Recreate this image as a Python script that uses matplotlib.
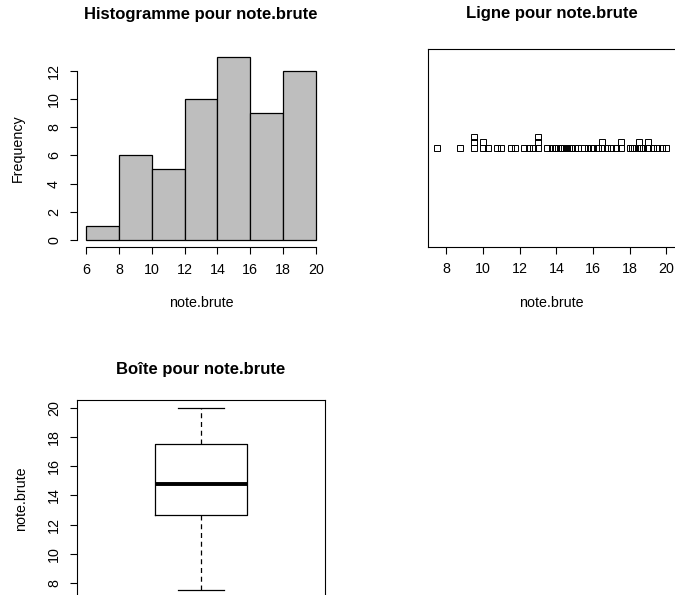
import matplotlib
matplotlib.use("Agg")
import matplotlib.pyplot as plt
import numpy as np
from collections import Counter

plt.rcParams['font.family'] = ['Liberation Sans', 'DejaVu Sans']

# notes (56 values)
note_brute = [
    7.5,
    8.75, 9.5, 9.5, 9.5, 10, 10,
    10.25, 10.75, 11, 11.5, 11.75,
    12.25, 12.5, 12.75, 13, 13, 13, 13.5, 13.75, 13.9, 14,
    14.2, 14.3, 14.4, 14.5, 14.6, 14.7, 14.8, 15.0, 15.2, 15.5, 15.7, 15.9, 16.0,
    16.25, 16.5, 16.5, 16.75, 17, 17.25, 17.5, 17.5, 18,
    18.1, 18.25, 18.5, 18.5, 18.6, 18.75, 19, 19, 19.25, 19.5, 19.75, 20,
]
hist_breaks = [6, 8, 10, 12, 14, 16, 18, 20]
hist_counts = [1, 6, 5, 10, 13, 9, 12]
x_ticks = [6, 8, 10, 12, 14, 16, 18, 20]
strip_ticks = [8, 10, 12, 14, 16, 18, 20]
freq_ticks = [0, 2, 4, 6, 8, 10, 12]
box_ticks = [8, 10, 12, 14, 16, 18, 20]
box_stats = dict(whislo=7.5, q1=12.625, med=14.75, q3=17.5, whishi=20)

W, H = 675, 595
fig = plt.figure(figsize=(W / 100, H / 100), dpi=100)

LAB = 10.3
TIT = 12


def px_axes(l, t, r, b):
    return fig.add_axes([l / W, (H - b) / H, (r - l) / W, (b - t) / H])


def r_ticks(ax):
    ax.tick_params(direction='out', length=5, width=0.8, labelsize=LAB, pad=6.3)
    for lab in ax.get_yticklabels():
        lab.set_rotation(90)
        lab.set_va('center')


# --- histogram
ax1 = px_axes(76.8, 49.4, 325.2, 247.3)
widths = np.diff(hist_breaks)
ax1.bar(hist_breaks[:-1], hist_counts, width=widths, align='edge',
        color='#BEBEBE', edgecolor='black', linewidth=0.9)
ax1.set_xlim(5.44, 20.56)
ax1.set_ylim(-0.52, 13.52)
ax1.set_xticks(x_ticks)
ax1.set_yticks(freq_ticks)
for s in ['top', 'right']:
    ax1.spines[s].set_visible(False)
ax1.spines['bottom'].set_bounds(6, 20)
ax1.spines['left'].set_bounds(0, 12)
ax1.spines['bottom'].set_linewidth(0.8)
ax1.spines['left'].set_linewidth(0.8)
r_ticks(ax1)
ax1.set_title('Histogramme pour note.brute', fontsize=TIT, fontweight='bold', pad=22)
ax1.set_xlabel('note.brute', fontsize=LAB, labelpad=14)
ax1.set_ylabel('Frequency', fontsize=LAB, labelpad=16)

# --- strip chart (stacked)
ax2 = px_axes(428, 48.5, 675.5, 246.5)
ax2.set_xlim(7.0, 20.5)
ax2.set_ylim(0.5, 1.5)
fig.canvas.draw()
hpx = ax2.get_window_extent().height
off = 5.5 / hpx * 1.0
xs, ys = [], []
for v, c in sorted(Counter(note_brute).items()):
    for k in range(c):
        xs.append(v)
        ys.append(1 + k * off)
ax2.plot(xs, ys, linestyle='none', marker='s', markersize=4.2,
         markerfacecolor='none', markeredgecolor='black', markeredgewidth=0.7)
ax2.set_xticks(strip_ticks)
ax2.set_yticks([])
for s in ax2.spines.values():
    s.set_linewidth(0.8)
r_ticks(ax2)
ax2.set_title('Ligne pour note.brute', fontsize=TIT, fontweight='bold', pad=22)
ax2.set_xlabel('note.brute', fontsize=LAB, labelpad=14)

# --- boxplot
ax3 = px_axes(77, 400.4, 325, 597.6)
ax3.bxp([box_stats], positions=[1], widths=0.4, showfliers=False,
        boxprops=dict(color='black', linewidth=0.9),
        whiskerprops=dict(color='black', linewidth=0.9, linestyle=(0, (4, 3))),
        capprops=dict(color='black', linewidth=0.9),
        medianprops=dict(color='black', linewidth=2.8),
        capwidths=0.2)
ax3.set_xlim(0.46, 1.54)
ax3.set_ylim(7.0, 20.5)
ax3.set_xticks([])
ax3.set_yticks(box_ticks)
for s in ax3.spines.values():
    s.set_linewidth(0.8)
r_ticks(ax3)
ax3.set_title('Boîte pour note.brute', fontsize=TIT, fontweight='bold', pad=19)
ax3.set_ylabel('note.brute', fontsize=LAB, labelpad=14)

fig.savefig('out.png', dpi=100)
